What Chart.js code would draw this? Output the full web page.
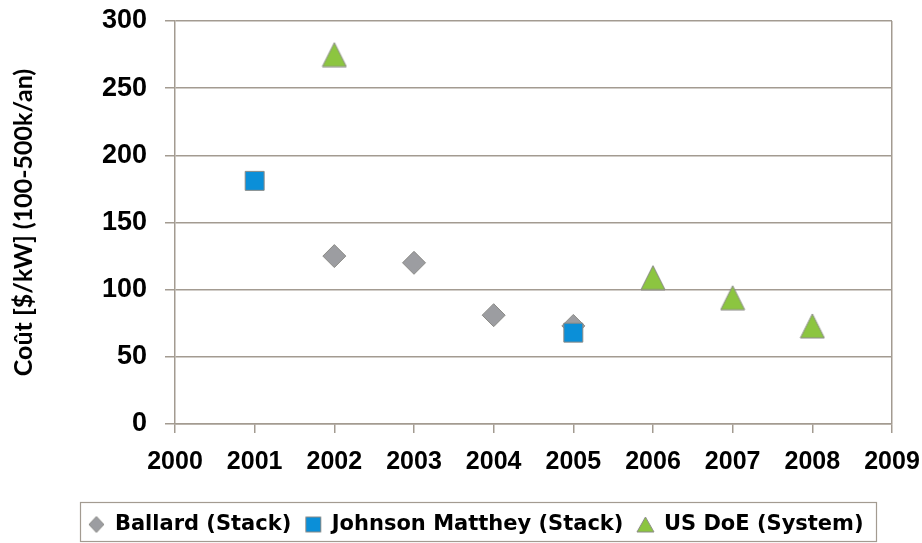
<!DOCTYPE html>
<html>
<head>
<meta charset="utf-8">
<script src="https://cdn.jsdelivr.net/npm/chart.js@4"></script>
<style>
  html, body { margin: 0; padding: 0; background: #ffffff; }
  #wrap { width: 922px; height: 543px; position: relative; }
</style>
</head>
<body>
<div id="wrap"><canvas id="c" width="922" height="543"></canvas></div>
<script>
// ---- data ----
const xTickLabels = ['2000','2001','2002','2003','2004','2005','2006','2007','2008','2009'];
const yTickLabels = ['0','50','100','150','200','250','300'];

const ballardYears = [2002, 2003, 2004, 2005];
const ballardCost  = [125, 120, 81, 73];

const jmYears = [2001, 2005];
const jmCost  = [181, 68];

const doeYears = [2002, 2006, 2007, 2008];
const doeCost  = [275, 109, 94, 73];

const seriesNames = ['Ballard (Stack)', 'Johnson Matthey (Stack)', 'US DoE (System)'];
const yTitle = 'Coût [$/kW] (100-500k/an)';

// ---- styles ----
const GRID = '#a39b91';
const GRAY_FILL = '#9c9da1';
const BLUE_FILL = '#0b8fd8';
const GREEN_FILL = '#8cc540';
const MARK_BORDER = '#8a8a86';

function marker(shape, w, h, fill) {
  const c = document.createElement('canvas');
  c.width = w + 2; c.height = h + 2;
  const g = c.getContext('2d');
  g.fillStyle = fill; g.strokeStyle = MARK_BORDER; g.lineWidth = 1;
  g.beginPath();
  if (shape === 'tri') {
    g.moveTo(1, h + 1); g.lineTo((w + 2) / 2, 1); g.lineTo(w + 1, h + 1); g.closePath();
  } else if (shape === 'dia') {
    g.moveTo((w + 2) / 2, 1); g.lineTo(w + 1, (h + 2) / 2); g.lineTo((w + 2) / 2, h + 1); g.lineTo(1, (h + 2) / 2); g.closePath();
  } else {
    g.rect(1.5, 1.5, w - 1, h - 1);
  }
  g.fill(); g.stroke();
  return c;
}

const triData = marker('tri', 24, 24, GREEN_FILL);
const legendMarks = [
  marker('dia', 15, 16, GRAY_FILL),
  marker('sq', 16, 16, BLUE_FILL),
  marker('tri', 17, 15, GREEN_FILL)
];

function pts(xs, ys) { return xs.map((x, i) => ({ x: x, y: ys[i] })); }

const legendFrame = {
  id: 'legendFrame',
  afterLayout(chart) {
    if (chart.legend) { chart.legend.left = 60; }
  },
  afterDraw(chart) {
    const ctx = chart.ctx;
    ctx.save();
    ctx.strokeStyle = GRID;
    ctx.lineWidth = 1.2;
    ctx.strokeRect(80.5, 502.5, 796, 39);
    ctx.restore();
  }
};

new Chart(document.getElementById('c'), {
  type: 'scatter',
  data: {
    datasets: [
      {
        label: seriesNames[0],
        data: pts(ballardYears, ballardCost),
        pointStyle: 'rectRot',
        pointRadius: 11.5,
        pointHoverRadius: 11.5,
        backgroundColor: GRAY_FILL,
        borderColor: MARK_BORDER,
        borderWidth: 1,
        order: 2
      },
      {
        label: seriesNames[1],
        data: pts(jmYears, jmCost),
        pointStyle: 'rect',
        pointRadius: 13.4,
        pointHoverRadius: 13.4,
        backgroundColor: BLUE_FILL,
        borderColor: MARK_BORDER,
        borderWidth: 1,
        order: 1
      },
      {
        label: seriesNames[2],
        data: pts(doeYears, doeCost),
        pointStyle: triData,
        pointRadius: 12,
        pointHoverRadius: 12,
        backgroundColor: GREEN_FILL,
        borderColor: MARK_BORDER,
        borderWidth: 1,
        order: 0
      }
    ]
  },
  options: {
    responsive: false,
    animation: false,
    devicePixelRatio: 1,
    layout: { padding: { left: 0, right: 30, top: 21, bottom: 0 } },
    scales: {
      x: {
        type: 'linear',
        min: 2000,
        max: 2009,
        afterBuildTicks(scale) { scale.ticks = xTickLabels.map(v => ({ value: Number(v) })); },
        afterFit(scale) { scale.height = 76; scale.paddingLeft = 0; scale.paddingRight = 0; },
        ticks: {
          autoSkip: false,
          maxRotation: 0,
          padding: 14,
          color: '#000000',
          font: { family: 'Liberation Sans', size: 25, weight: 'bold' },
          callback: (v, i) => xTickLabels[i]
        },
        grid: {
          drawOnChartArea: true,
          drawTicks: true,
          tickLength: 9,
          lineWidth: 1.5,
          tickColor: GRID,
          tickWidth: 1.5,
          color: (c) => (c.tick && c.tick.value === 2009) ? GRID : 'rgba(0,0,0,0)'
        },
        border: { display: true, color: GRID, width: 1.5 }
      },
      y: {
        type: 'linear',
        min: 0,
        max: 300,
        afterBuildTicks(scale) { scale.ticks = yTickLabels.map(v => ({ value: Number(v) })); },
        afterFit(scale) { scale.width = 175; scale.paddingTop = 0; scale.paddingBottom = 0; },
        ticks: {
          padding: 18,
          color: '#000000',
          font: { family: 'Liberation Sans', size: 27, weight: 'bold' },
          callback: (v, i) => yTickLabels[i]
        },
        grid: {
          drawTicks: true,
          tickLength: 10,
          lineWidth: 1.5,
          color: GRID,
          tickColor: GRID
        },
        border: { display: true, color: GRID, width: 1.5 },
        title: {
          display: true,
          text: yTitle,
          color: '#000000',
          font: { family: 'Lato', size: 25, weight: 'bold' },
          padding: { top: 9, bottom: 0 }
        }
      }
    },
    plugins: {
      legend: {
        position: 'bottom',
        maxHeight: 43,
        labels: {
          usePointStyle: true,
          boxWidth: 16,
          boxHeight: 16,
          padding: 14,
          color: '#000000',
          font: { family: 'DejaVu Sans', size: 21, weight: 'bold' },
          generateLabels: () => seriesNames.map((name, i) => ({
            text: name,
            pointStyle: legendMarks[i],
            fillStyle: 'rgba(0,0,0,0)',
            strokeStyle: 'rgba(0,0,0,0)',
            lineWidth: 0,
            hidden: false,
            datasetIndex: i,
            fontColor: '#000000'
          }))
        }
      },
      tooltip: { enabled: true }
    }
  },
  plugins: [legendFrame]
});
</script>
</body>
</html>
